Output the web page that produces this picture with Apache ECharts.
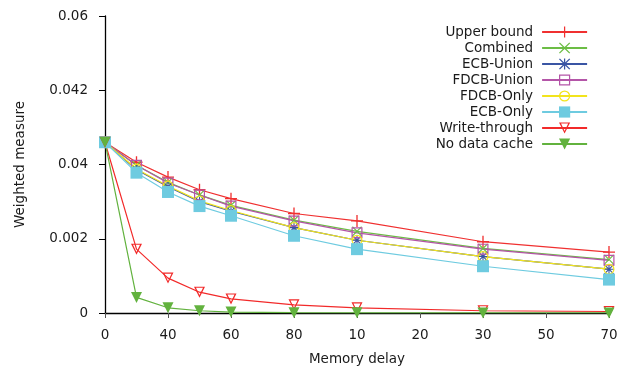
<!DOCTYPE html>
<html>
<head>
<meta charset="utf-8">
<script src="https://cdn.jsdelivr.net/npm/echarts@6/dist/echarts.min.js"></script>
<style>html,body{margin:0;padding:0;background:#fff}#c{width:629px;height:371px}</style>
</head>
<body>
<div id="c"></div>
<script>
// x positions on the (evenly spaced) tick scale, and tick labels
var xTickLabels = ['0','40','60','80','10','20','30','50','70'];
var yTickLabels = ['0','0.002','0.04','0.042','0.06'];
var memoryDelayPos = [0, 0.5, 1, 1.5, 2, 3, 4, 6, 8];

// values expressed in y tick units
var upperBound   = [2.30, 2.03, 1.83, 1.66, 1.54, 1.34, 1.24, 0.96, 0.82];
var combined     = [2.30, 1.99, 1.76, 1.59, 1.45, 1.25, 1.10, 0.87, 0.72];
var ecbUnion     = [2.30, 1.93, 1.70, 1.50, 1.37, 1.15, 0.98, 0.76, 0.59];
var fdcbUnion    = [2.30, 1.99, 1.75, 1.59, 1.44, 1.24, 1.08, 0.86, 0.71];
var fdcbOnly     = [2.30, 1.94, 1.71, 1.51, 1.38, 1.15, 0.98, 0.76, 0.59];
var ecbOnly      = [2.30, 1.89, 1.63, 1.44, 1.31, 1.04, 0.86, 0.63, 0.45];
var writeThrough = [2.30, 0.86, 0.47, 0.28, 0.19, 0.11, 0.07, 0.03, 0.02];
var noDataCache  = [2.30, 0.21, 0.07, 0.03, 0.013, 0.005, 0.003, 0.001, 0.0005];

var SYM = {
  plus: 'path://M4.45,0H5.55V4.45H10V5.55H5.55V10H4.45V5.55H0V4.45H4.45Z',
  cross: 'path://M0,0.8L0.8,0L5,4.2L9.2,0L10,0.8L5.8,5L10,9.2L9.2,10L5,5.8L0.8,10L0,9.2L4.2,5Z',
  star: 'path://M0,0.8L0.8,0L5,4.2L9.2,0L10,0.8L5.8,5L10,9.2L9.2,10L5,5.8L0.8,10L0,9.2L4.2,5ZM4.45,0H5.55V10H4.45ZM0,4.45H10V5.55H0Z',
  sqRing: 'path://M0,0H10V10H0ZM1.1,1.1V8.9H8.9V1.1Z',
  circRing: 'path://M0,5A5,5,0,1,1,10,5A5,5,0,1,1,0,5ZM1.1,5A3.9,3.9,0,1,0,8.9,5A3.9,3.9,0,1,0,1.1,5Z',
  triRing: 'path://M0,0H10L5,10ZM1.8,1L5,7.6L8.2,1Z',
  triDown: 'path://M0,0H10L5,10Z'
};

function pts(arr){ return arr.map(function(v,i){ return [memoryDelayPos[i], v]; }); }

function mk(name, data, color, symbol, size){
  return {
    name: name, type: 'line', data: pts(data), symbol: symbol, symbolSize: size,
    showAllSymbol: true, animation: false,
    lineStyle: { color: color, width: 1.2 },
    itemStyle: { color: color },
    emphasis: { disabled: true }
  };
}

var font = 'DejaVu Sans';
var chart = echarts.init(document.getElementById('c'), null, { renderer: 'canvas' });
chart.setOption({
  animation: false,
  textStyle: { fontFamily: font },
  grid: { left: 105, right: 20, top: 16, bottom: 56, containLabel: false },
  legend: {
    orient: 'vertical', right: 36, top: 20, align: 'right',
    itemWidth: 45, itemHeight: 14, itemGap: 2,
    textStyle: { fontFamily: font, fontSize: 13.5, color: '#1a1a1a', lineHeight: 14, padding: [0, 4, 0, 0] },
    lineStyle: { width: 1.8 },
    selectedMode: false
  },
  xAxis: {
    type: 'value', min: 0, max: 8, interval: 1,
    name: 'Memory delay', nameLocation: 'middle', nameGap: 39,
    nameTextStyle: { fontFamily: font, fontSize: 13.5, color: '#1a1a1a' },
    axisLine: { lineStyle: { color: '#000', width: 1.3 } },
    axisTick: { show: true, length: 5, lineStyle: { color: '#555' } },
    axisLabel: { margin: 15, fontFamily: font, fontSize: 13.5, color: '#1a1a1a',
      formatter: function(v){ return xTickLabels[Math.round(v)]; } },
    splitLine: { show: false }
  },
  yAxis: {
    type: 'value', min: 0, max: 4, interval: 1,
    name: 'Weighted measure', nameLocation: 'middle', nameGap: 78,
    nameTextStyle: { fontFamily: font, fontSize: 13.5, color: '#1a1a1a' },
    axisLine: { show: true, lineStyle: { color: '#000', width: 1.3 } },
    axisTick: { show: true, length: 6, lineStyle: { color: '#000' } },
    axisLabel: { margin: 17, fontFamily: font, fontSize: 13.5, color: '#1a1a1a',
      formatter: function(v){ return yTickLabels[Math.round(v)]; } },
    splitLine: { show: false }
  },
  series: [
    mk('Upper bound', upperBound, '#f03030', SYM.plus, 12),
    mk('Combined', combined, '#6cbd45', SYM.cross, 10),
    mk('ECB-Union', ecbUnion, '#3a55a4', SYM.star, 10),
    mk('FDCB-Union', fdcbUnion, '#b455a8', SYM.sqRing, 11),
    mk('FDCB-Only', fdcbOnly, '#f2e41c', SYM.circRing, 11),
    mk('ECB-Only', ecbOnly, '#6ecbe0', 'rect', 12),
    mk('Write-through', writeThrough, '#f22a2a', SYM.triRing, 11),
    mk('No data cache', noDataCache, '#62b23e', SYM.triDown, 11)
  ]
});
</script>
</body>
</html>
